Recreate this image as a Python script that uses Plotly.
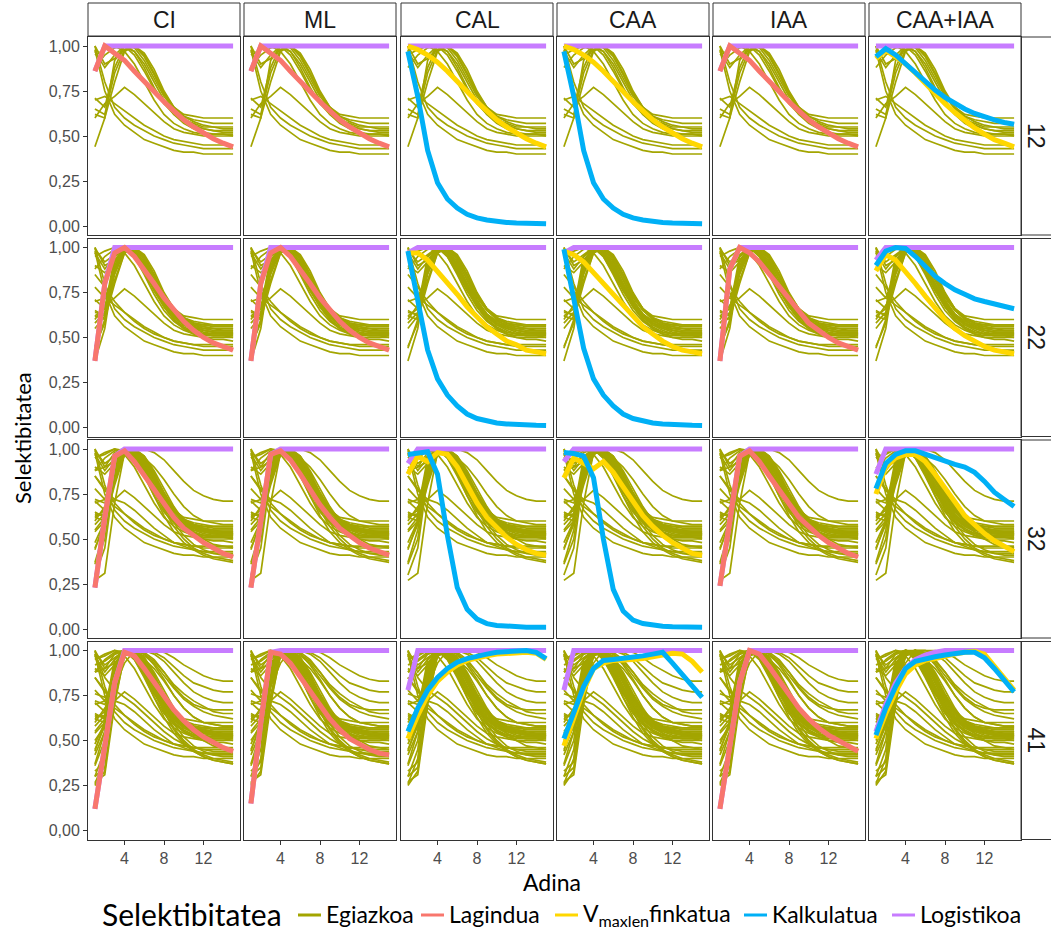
import plotly.graph_objects as go

W, H = 1051, 935

AGES = list(range(1, 16))
COLUMNS = ["CI", "ML", "CAL", "CAA", "IAA", "CAA+IAA"]
ROWS = ["12", "22", "32", "41"]
N_CURVES = [12, 22, 32, 41]

# True selectivity curves (row "n" shows the first n curves)
EGIAZKOA = [
    [1.00, 0.90, 0.93, 0.98, 1.00, 0.95, 0.85, 0.74, 0.66, 0.61, 0.58, 0.56, 0.55, 0.54, 0.54],
    [0.97, 0.88, 0.95, 1.00, 0.97, 0.88, 0.77, 0.68, 0.62, 0.58, 0.56, 0.54, 0.53, 0.52, 0.52],
    [0.71, 0.66, 0.88, 1.00, 0.99, 0.92, 0.82, 0.72, 0.65, 0.61, 0.59, 0.58, 0.57, 0.57, 0.57],
    [0.65, 0.62, 0.85, 0.98, 1.00, 0.94, 0.84, 0.73, 0.66, 0.62, 0.61, 0.60, 0.60, 0.60, 0.60],
    [0.62, 0.60, 0.80, 0.97, 1.00, 0.96, 0.87, 0.75, 0.66, 0.60, 0.56, 0.54, 0.53, 0.53, 0.53],
    [0.44, 0.60, 0.92, 1.00, 0.97, 0.90, 0.80, 0.70, 0.62, 0.57, 0.54, 0.52, 0.51, 0.51, 0.50],
    [0.60, 0.68, 0.72, 0.77, 0.73, 0.68, 0.63, 0.58, 0.54, 0.52, 0.51, 0.50, 0.50, 0.50, 0.50],
    [1.00, 0.80, 0.66, 0.60, 0.56, 0.53, 0.50, 0.48, 0.46, 0.45, 0.44, 0.43, 0.43, 0.43, 0.43],
    [0.98, 0.75, 0.62, 0.56, 0.52, 0.48, 0.46, 0.44, 0.42, 0.41, 0.41, 0.40, 0.40, 0.40, 0.40],
    [0.95, 0.98, 1.00, 0.97, 0.90, 0.80, 0.70, 0.62, 0.57, 0.54, 0.52, 0.51, 0.51, 0.51, 0.51],
    [0.88, 0.95, 0.99, 1.00, 0.95, 0.86, 0.76, 0.68, 0.63, 0.59, 0.57, 0.55, 0.55, 0.55, 0.55],
    [0.70, 0.72, 0.68, 0.64, 0.60, 0.56, 0.53, 0.50, 0.48, 0.47, 0.46, 0.45, 0.45, 0.45, 0.45],
    [0.37, 0.55, 0.90, 1.00, 0.98, 0.90, 0.79, 0.69, 0.62, 0.58, 0.56, 0.55, 0.54, 0.54, 0.54],
    [0.55, 0.62, 0.93, 1.00, 0.96, 0.87, 0.76, 0.67, 0.60, 0.56, 0.53, 0.52, 0.51, 0.51, 0.51],
    [0.90, 0.86, 0.92, 0.99, 1.00, 0.93, 0.82, 0.71, 0.63, 0.58, 0.55, 0.53, 0.52, 0.52, 0.52],
    [0.64, 0.63, 0.82, 0.97, 1.00, 0.95, 0.85, 0.74, 0.66, 0.61, 0.58, 0.57, 0.56, 0.56, 0.56],
    [0.78, 0.72, 0.86, 1.00, 0.98, 0.89, 0.78, 0.68, 0.61, 0.57, 0.55, 0.54, 0.53, 0.53, 0.53],
    [0.45, 0.58, 0.88, 0.99, 1.00, 0.94, 0.84, 0.73, 0.65, 0.60, 0.58, 0.57, 0.57, 0.57, 0.57],
    [0.85, 0.78, 0.70, 0.64, 0.59, 0.55, 0.52, 0.50, 0.48, 0.47, 0.46, 0.46, 0.46, 0.46, 0.46],
    [0.58, 0.64, 0.90, 1.00, 0.97, 0.88, 0.77, 0.67, 0.60, 0.55, 0.52, 0.50, 0.49, 0.49, 0.48],
    [0.62, 0.66, 0.95, 1.00, 0.95, 0.85, 0.74, 0.65, 0.59, 0.55, 0.53, 0.52, 0.52, 0.52, 0.52],
    [0.99, 0.92, 0.96, 1.00, 0.98, 0.91, 0.80, 0.70, 0.63, 0.59, 0.57, 0.56, 0.55, 0.55, 0.55],
    [0.27, 0.31, 0.70, 0.98, 1.00, 1.00, 0.98, 0.94, 0.88, 0.82, 0.77, 0.74, 0.72, 0.71, 0.71],
    [0.30, 0.45, 0.85, 1.00, 0.97, 0.88, 0.77, 0.66, 0.57, 0.50, 0.45, 0.42, 0.40, 0.39, 0.38],
    [0.48, 0.60, 0.92, 1.00, 0.96, 0.86, 0.74, 0.63, 0.54, 0.48, 0.44, 0.41, 0.39, 0.38, 0.37],
    [0.88, 0.90, 0.98, 1.00, 0.97, 0.92, 0.84, 0.75, 0.67, 0.61, 0.57, 0.55, 0.54, 0.53, 0.53],
    [0.95, 0.97, 1.00, 0.99, 0.98, 0.95, 0.90, 0.83, 0.75, 0.68, 0.63, 0.60, 0.59, 0.58, 0.58],
    [0.72, 0.70, 0.84, 0.97, 1.00, 0.96, 0.88, 0.78, 0.68, 0.60, 0.54, 0.50, 0.47, 0.46, 0.45],
    [0.36, 0.50, 0.88, 1.00, 0.98, 0.90, 0.79, 0.68, 0.59, 0.52, 0.47, 0.44, 0.42, 0.41, 0.41],
    [0.63, 0.64, 0.90, 1.00, 0.99, 0.93, 0.83, 0.72, 0.64, 0.59, 0.56, 0.55, 0.54, 0.54, 0.54],
    [0.85, 0.77, 0.72, 0.70, 0.66, 0.61, 0.56, 0.52, 0.48, 0.46, 0.44, 0.43, 0.42, 0.42, 0.42],
    [0.54, 0.60, 0.86, 0.99, 1.00, 0.95, 0.86, 0.76, 0.67, 0.61, 0.57, 0.55, 0.54, 0.53, 0.53],
    [0.25, 0.33, 0.75, 0.99, 1.00, 1.00, 1.00, 0.99, 0.96, 0.92, 0.89, 0.86, 0.84, 0.83, 0.83],
    [0.30, 0.35, 0.72, 0.97, 1.00, 1.00, 0.99, 0.96, 0.91, 0.86, 0.82, 0.80, 0.78, 0.77, 0.77],
    [0.92, 0.94, 0.98, 1.00, 1.00, 0.98, 0.94, 0.88, 0.81, 0.76, 0.72, 0.69, 0.66, 0.65, 0.65],
    [0.42, 0.55, 0.90, 1.00, 0.99, 0.97, 0.93, 0.86, 0.79, 0.73, 0.69, 0.66, 0.64, 0.63, 0.62],
    [0.26, 0.40, 0.82, 1.00, 0.98, 0.90, 0.78, 0.66, 0.56, 0.49, 0.44, 0.41, 0.39, 0.38, 0.37],
    [0.76, 0.74, 0.80, 0.93, 1.00, 0.99, 0.95, 0.88, 0.80, 0.74, 0.70, 0.68, 0.67, 0.67, 0.67],
    [0.50, 0.58, 0.87, 1.00, 0.98, 0.92, 0.83, 0.73, 0.65, 0.60, 0.57, 0.56, 0.55, 0.55, 0.55],
    [0.98, 0.85, 0.78, 0.74, 0.70, 0.65, 0.60, 0.55, 0.51, 0.48, 0.46, 0.45, 0.44, 0.44, 0.44],
    [0.33, 0.38, 0.80, 0.98, 1.00, 0.98, 0.92, 0.84, 0.75, 0.68, 0.63, 0.60, 0.59, 0.58, 0.58],
]

# Sampled selectivity
LAGINDUA_12 = {
    "CI":  [0.86, 1.00, 0.96, 0.92, 0.86, 0.80, 0.745, 0.69, 0.64, 0.59, 0.55, 0.515, 0.485, 0.46, 0.44],
    "ML":  [0.86, 1.00, 0.96, 0.92, 0.86, 0.80, 0.745, 0.69, 0.64, 0.59, 0.55, 0.515, 0.485, 0.46, 0.44],
    "IAA": [0.86, 1.00, 0.96, 0.92, 0.86, 0.80, 0.745, 0.69, 0.64, 0.59, 0.55, 0.515, 0.485, 0.46, 0.44],
}
LAGINDUA_22 = {
    "CI":  [0.37, 0.80, 0.97, 1.00, 0.95, 0.88, 0.80, 0.72, 0.65, 0.59, 0.54, 0.50, 0.47, 0.45, 0.43],
    "ML":  [0.37, 0.80, 0.97, 1.00, 0.95, 0.88, 0.80, 0.72, 0.65, 0.59, 0.54, 0.50, 0.47, 0.45, 0.43],
    "IAA": [0.37, 0.88, 1.00, 0.97, 0.92, 0.85, 0.78, 0.71, 0.64, 0.58, 0.54, 0.50, 0.47, 0.45, 0.43],
}
LAGINDUA_32 = {
    "CI":  [0.23, 0.62, 0.96, 0.99, 0.93, 0.85, 0.77, 0.69, 0.62, 0.56, 0.52, 0.48, 0.45, 0.42, 0.40],
    "ML":  [0.23, 0.62, 0.97, 0.99, 0.94, 0.86, 0.77, 0.69, 0.62, 0.56, 0.52, 0.48, 0.45, 0.43, 0.41],
    "IAA": [0.24, 0.62, 0.96, 0.99, 0.93, 0.85, 0.77, 0.69, 0.62, 0.57, 0.52, 0.48, 0.45, 0.42, 0.40],
}
LAGINDUA_41 = {
    "CI":  [0.12, 0.45, 0.82, 0.99, 0.97, 0.90, 0.82, 0.74, 0.67, 0.61, 0.56, 0.52, 0.49, 0.46, 0.44],
    "ML":  [0.15, 0.60, 0.99, 0.98, 0.93, 0.85, 0.77, 0.69, 0.62, 0.56, 0.51, 0.48, 0.45, 0.43, 0.42],
    "IAA": [0.12, 0.45, 0.82, 1.00, 0.98, 0.91, 0.83, 0.75, 0.68, 0.62, 0.57, 0.53, 0.50, 0.47, 0.44],
}

# Selectivity with fixed V_maxlen
VMAXLEN_12 = {
    "CAL":     [1.00, 0.98, 0.95, 0.91, 0.86, 0.80, 0.745, 0.69, 0.64, 0.59, 0.55, 0.515, 0.485, 0.46, 0.44],
    "CAA":     [1.00, 0.98, 0.95, 0.91, 0.86, 0.80, 0.745, 0.69, 0.64, 0.59, 0.55, 0.515, 0.485, 0.46, 0.44],
    "CAA+IAA": [0.93, 0.975, 0.94, 0.90, 0.85, 0.79, 0.735, 0.68, 0.63, 0.585, 0.545, 0.51, 0.48, 0.46, 0.44],
}
VMAXLEN_22 = {
    "CAL":     [0.97, 0.97, 0.93, 0.87, 0.80, 0.74, 0.67, 0.61, 0.56, 0.52, 0.48, 0.46, 0.43, 0.42, 0.41],
    "CAA":     [0.98, 0.96, 0.92, 0.86, 0.80, 0.73, 0.67, 0.61, 0.56, 0.52, 0.48, 0.45, 0.43, 0.42, 0.41],
    "CAA+IAA": [0.87, 0.96, 0.93, 0.87, 0.80, 0.73, 0.66, 0.60, 0.55, 0.51, 0.48, 0.45, 0.43, 0.42, 0.41],
}
VMAXLEN_32 = {
    "CAL":     [0.86, 0.96, 0.93, 0.98, 0.97, 0.90, 0.80, 0.70, 0.62, 0.56, 0.51, 0.47, 0.44, 0.42, 0.41],
    "CAA":     [0.84, 0.95, 0.92, 0.89, 0.93, 0.87, 0.79, 0.71, 0.63, 0.57, 0.52, 0.48, 0.45, 0.42, 0.41],
    "CAA+IAA": [0.75, 0.90, 0.95, 0.97, 0.97, 0.93, 0.86, 0.78, 0.70, 0.63, 0.58, 0.53, 0.49, 0.46, 0.43],
}
VMAXLEN_41 = {
    "CAL":     [0.51, 0.64, 0.75, 0.83, 0.88, 0.92, 0.945, 0.96, 0.97, 0.98, 0.985, 0.99, 0.99, 0.985, 0.95],
    "CAA":     [0.47, 0.62, 0.78, 0.90, 0.93, 0.945, 0.945, 0.95, 0.955, 0.965, 0.975, 0.985, 0.98, 0.94, 0.88],
    "CAA+IAA": [0.51, 0.65, 0.77, 0.87, 0.92, 0.945, 0.955, 0.97, 0.98, 0.99, 0.995, 0.98, 0.91, 0.84, 0.78],
}

# Estimated selectivity
KALKULATUA_12 = {
    "CAL":     [0.97, 0.72, 0.42, 0.24, 0.15, 0.10, 0.065, 0.045, 0.033, 0.025, 0.02, 0.017, 0.015, 0.014, 0.013],
    "CAA":     [0.97, 0.72, 0.42, 0.24, 0.15, 0.10, 0.065, 0.045, 0.033, 0.025, 0.02, 0.017, 0.015, 0.014, 0.013],
    "CAA+IAA": [0.94, 0.985, 0.95, 0.90, 0.85, 0.80, 0.755, 0.715, 0.68, 0.65, 0.625, 0.605, 0.59, 0.575, 0.565],
}
KALKULATUA_22 = {
    "CAL":     [0.98, 0.72, 0.43, 0.27, 0.18, 0.12, 0.075, 0.05, 0.035, 0.025, 0.02, 0.016, 0.014, 0.012, 0.011],
    "CAA":     [0.99, 0.73, 0.44, 0.27, 0.18, 0.12, 0.075, 0.05, 0.035, 0.025, 0.02, 0.016, 0.014, 0.012, 0.011],
    "CAA+IAA": [0.90, 0.98, 1.00, 0.995, 0.95, 0.89, 0.84, 0.80, 0.765, 0.74, 0.715, 0.70, 0.685, 0.67, 0.66],
}
KALKULATUA_32 = {
    "CAL":     [0.97, 0.98, 0.985, 0.86, 0.52, 0.23, 0.11, 0.055, 0.03, 0.02, 0.015, 0.012, 0.01, 0.01, 0.01],
    "CAA":     [0.98, 0.975, 0.96, 0.84, 0.50, 0.22, 0.10, 0.05, 0.03, 0.02, 0.015, 0.012, 0.01, 0.01, 0.01],
    "CAA+IAA": [0.78, 0.92, 0.97, 0.99, 0.99, 0.97, 0.955, 0.935, 0.915, 0.90, 0.87, 0.82, 0.76, 0.72, 0.68],
}
KALKULATUA_41 = {
    "CAL":     [0.55, 0.68, 0.78, 0.85, 0.90, 0.935, 0.955, 0.97, 0.98, 0.99, 0.995, 1.00, 1.00, 0.99, 0.955],
    "CAA":     [0.51, 0.66, 0.80, 0.90, 0.945, 0.95, 0.955, 0.96, 0.97, 0.98, 0.99, 0.93, 0.87, 0.80, 0.74],
    "CAA+IAA": [0.53, 0.68, 0.80, 0.90, 0.94, 0.955, 0.965, 0.975, 0.985, 0.99, 0.99, 0.96, 0.90, 0.83, 0.77],
}

# Logistic selectivity
LOGISTIKOA_12 = {
    "CI":      [0.86] + [1.0] * 14,
    "ML":      [0.86] + [1.0] * 14,
    "CAL":     [1.0] * 15,
    "CAA":     [1.0] * 15,
    "IAA":     [0.86] + [1.0] * 14,
    "CAA+IAA": [1.0] * 15,
}
LOGISTIKOA_22 = {
    "CI":      [0.37, 0.80] + [1.0] * 13,
    "ML":      [0.37, 0.80] + [1.0] * 13,
    "CAL":     [0.97] + [1.0] * 14,
    "CAA":     [0.97] + [1.0] * 14,
    "IAA":     [0.37, 0.88] + [1.0] * 13,
    "CAA+IAA": [0.93] + [1.0] * 14,
}
LOGISTIKOA_32 = {
    "CI":      [0.23, 0.62, 0.96] + [1.0] * 12,
    "ML":      [0.23, 0.62, 0.97] + [1.0] * 12,
    "CAL":     [0.92] + [1.0] * 14,
    "CAA":     [0.93] + [1.0] * 14,
    "IAA":     [0.24, 0.62, 0.96] + [1.0] * 12,
    "CAA+IAA": [0.86] + [1.0] * 14,
}
LOGISTIKOA_41 = {
    "CI":      [0.12, 0.45, 0.82] + [1.0] * 12,
    "ML":      [0.15, 0.60, 0.99] + [1.0] * 12,
    "CAL":     [0.78] + [1.0] * 14,
    "CAA":     [0.78] + [1.0] * 14,
    "IAA":     [0.12, 0.45, 0.82] + [1.0] * 12,
    "CAA+IAA": [0.55, 0.70, 0.82, 0.90, 0.95, 0.975, 0.99] + [1.0] * 8,
}

LAGINDUA = {"12": LAGINDUA_12, "22": LAGINDUA_22, "32": LAGINDUA_32, "41": LAGINDUA_41}
VMAXLEN = {"12": VMAXLEN_12, "22": VMAXLEN_22, "32": VMAXLEN_32, "41": VMAXLEN_41}
KALKULATUA = {"12": KALKULATUA_12, "22": KALKULATUA_22, "32": KALKULATUA_32, "41": KALKULATUA_41}
LOGISTIKOA = {"12": LOGISTIKOA_12, "22": LOGISTIKOA_22, "32": LOGISTIKOA_32, "41": LOGISTIKOA_41}

Y_TICKS = [0, 0.25, 0.5, 0.75, 1.0]
Y_TICK_TEXT = ["0,00", "0,25", "0,50", "0,75", "1,00"]
X_TICKS = [4, 8, 12]

LEGEND_TITLE = "Selektibitatea"
LEGEND_ITEMS = ["Egiazkoa", "Lagindua", "V<sub>maxlen</sub>finkatua", "Kalkulatua", "Logistikoa"]

C_TRUE = "#A3A500"
C_LAG = "#F8766D"
C_VMAX = "#FFD700"
C_KALK = "#00B0F6"
C_LOG = "#C77CFF"
LEGEND_COLORS = [C_TRUE, C_LAG, C_VMAX, C_KALK, C_LOG]

# panel geometry (pixels)
COL_LEFT = [88, 244, 401, 557, 713, 869]
PANEL_W = 152
ROW_TOP = [37, 238.5, 440, 641.5]
PANEL_H = 198


def px_x(p):
    return p / W


def px_y(p):
    return 1 - p / H


fig = go.Figure()
layout = {}
frame = "#333333"
tick_font = dict(family="Liberation Sans, Arial, sans-serif", size=16, color="#4D4D4D")

for r, row in enumerate(ROWS):
    n = N_CURVES[r]
    for c, col in enumerate(COLUMNS):
        k = r * 6 + c + 1
        xa = "x" if k == 1 else f"x{k}"
        ya = "y" if k == 1 else f"y{k}"

        # true curves as one broken line
        xs, ys = [], []
        for curve in EGIAZKOA[:n]:
            xs += AGES + [None]
            ys += curve + [None]
        fig.add_trace(go.Scatter(x=xs, y=ys, mode="lines", xaxis=xa, yaxis=ya,
                                 line=dict(color=C_TRUE, width=1.7), showlegend=False,
                                 hoverinfo="skip"))
        fig.add_trace(go.Scatter(x=AGES, y=LOGISTIKOA[row][col], mode="lines", xaxis=xa, yaxis=ya,
                                 line=dict(color=C_LOG, width=5), showlegend=False))
        if col in LAGINDUA[row]:
            fig.add_trace(go.Scatter(x=AGES, y=LAGINDUA[row][col], mode="lines", xaxis=xa, yaxis=ya,
                                     line=dict(color=C_LAG, width=5), showlegend=False))
        if col in VMAXLEN[row]:
            fig.add_trace(go.Scatter(x=AGES, y=VMAXLEN[row][col], mode="lines", xaxis=xa, yaxis=ya,
                                     line=dict(color=C_VMAX, width=5), showlegend=False))
        if col in KALKULATUA[row]:
            fig.add_trace(go.Scatter(x=AGES, y=KALKULATUA[row][col], mode="lines", xaxis=xa, yaxis=ya,
                                     line=dict(color=C_KALK, width=5), showlegend=False))

        x0 = COL_LEFT[c]
        y0 = ROW_TOP[r]
        xkey = "xaxis" if k == 1 else f"xaxis{k}"
        ykey = "yaxis" if k == 1 else f"yaxis{k}"
        layout[xkey] = dict(
            domain=[px_x(x0), px_x(x0 + PANEL_W)], anchor=ya, range=[0.3, 15.7],
            showgrid=False, zeroline=False, showline=True, mirror=True,
            linecolor=frame, linewidth=1,
            tickvals=X_TICKS, ticks="outside" if r == 3 else "", ticklen=4,
            tickcolor=frame, showticklabels=(r == 3), tickfont=tick_font,
        )
        layout[ykey] = dict(
            domain=[px_y(y0 + PANEL_H), px_y(y0)], anchor=xa, range=[-0.05, 1.05],
            showgrid=False, zeroline=False, showline=True, mirror=True,
            linecolor=frame, linewidth=1,
            tickvals=Y_TICKS, ticktext=Y_TICK_TEXT, ticks="outside" if c == 0 else "",
            ticklen=4, tickcolor=frame, showticklabels=(c == 0), tickfont=tick_font,
        )

shapes = []
annotations = []
strip_font = dict(family="Liberation Sans, Arial, sans-serif", size=23, color="#1A1A1A")

# column strips
for c, col in enumerate(COLUMNS):
    x0 = COL_LEFT[c]
    shapes.append(dict(type="rect", xref="paper", yref="paper",
                       x0=px_x(x0), x1=px_x(x0 + PANEL_W), y0=px_y(36), y1=px_y(3),
                       line=dict(color=frame, width=1), fillcolor="white", layer="below"))
    annotations.append(dict(text=col, xref="paper", yref="paper", x=px_x(x0 + PANEL_W / 2),
                            y=px_y(20), showarrow=False, font=strip_font,
                            xanchor="center", yanchor="middle"))

# row strips
for r, row in enumerate(ROWS):
    y0 = ROW_TOP[r]
    shapes.append(dict(type="rect", xref="paper", yref="paper",
                       x0=px_x(1021), x1=px_x(1053), y0=px_y(y0 + PANEL_H), y1=px_y(y0),
                       line=dict(color=frame, width=1), fillcolor="white", layer="below"))
    annotations.append(dict(text=row, xref="paper", yref="paper", x=px_x(1036),
                            y=px_y(y0 + PANEL_H / 2), showarrow=False, font=strip_font,
                            textangle=90, xanchor="center", yanchor="middle"))

annotations.append(dict(text="Adina", xref="paper", yref="paper", x=px_x(552), y=px_y(882),
                        showarrow=False, xanchor="center", yanchor="middle",
                        font=dict(family="Lato, Open Sans, sans-serif", size=23, color="black")))
annotations.append(dict(text="Selektibitatea", xref="paper", yref="paper", x=px_x(22),
                        y=px_y(438), showarrow=False, textangle=-90,
                        xanchor="center", yanchor="middle",
                        font=dict(family="Lato, Open Sans, sans-serif", size=22, color="black")))

# legend
leg_y = 914
annotations.append(dict(text=LEGEND_TITLE, xref="paper", yref="paper", x=px_x(100), y=px_y(leg_y),
                        showarrow=False, xanchor="left", yanchor="middle",
                        font=dict(family="Lato, Open Sans, sans-serif", size=30, color="black")))
text_x = [324, 447, 581, 770, 918]
for label, color, tx in zip(LEGEND_ITEMS, LEGEND_COLORS, text_x):
    shapes.append(dict(type="line", xref="paper", yref="paper",
                       x0=px_x(tx - 26), x1=px_x(tx - 3), y0=px_y(leg_y + 1), y1=px_y(leg_y + 1),
                       line=dict(color=color, width=3)))
    annotations.append(dict(text=label, xref="paper", yref="paper", x=px_x(tx), y=px_y(leg_y),
                            showarrow=False, xanchor="left", yanchor="middle",
                            font=dict(family="Lato, Open Sans, sans-serif", size=23, color="black")))

fig.update_layout(
    width=W, height=H, margin=dict(l=0, r=0, t=0, b=0),
    paper_bgcolor="white", plot_bgcolor="white", showlegend=False,
    shapes=shapes, annotations=annotations, **layout,
)

fig.write_html("out.html")
